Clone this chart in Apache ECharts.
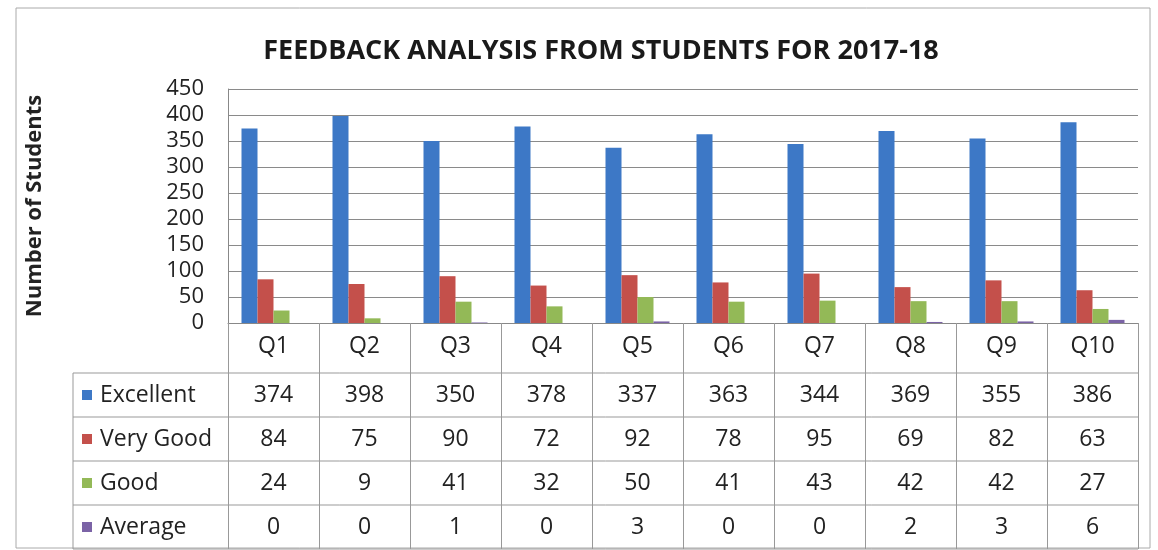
<!DOCTYPE html>
<html>
<head>
    <meta charset="utf-8">
    <title>Feedback Analysis</title>
    <script src="https://cdn.jsdelivr.net/npm/echarts@6/dist/echarts.min.js"></script>
    <style>
        html, body, #main {
            width: 100%;
            height: 100%;
            margin: 0;
            background: #fff;
        }
    </style>
</head>
<body>
    <div id="main"></div>
    <script type="text/javascript">
        // data
        var questions = ['Q1', 'Q2', 'Q3', 'Q4', 'Q5', 'Q6', 'Q7', 'Q8', 'Q9', 'Q10'];
        var excellent = [374, 398, 350, 378, 337, 363, 344, 369, 355, 386];
        var veryGood = [84, 75, 90, 72, 92, 78, 95, 69, 82, 63];
        var good = [24, 9, 41, 32, 50, 41, 43, 42, 42, 27];
        var average = [0, 0, 1, 0, 3, 0, 0, 2, 3, 6];
        var seriesNames = ['Excellent', 'Very Good', 'Good', 'Average'];
        var seriesData = [excellent, veryGood, good, average];
        var colors = ['#3d78c6', '#c4504b', '#93b957', '#7b63a6'];

        var font = 'Open Sans';
        var myChart = echarts.init(document.getElementById('main'));

        var series = seriesNames.map(function (name, k) {
            return {
                name: name,
                type: 'bar',
                data: seriesData[k],
                barWidth: 16,
                barGap: '0%',
                itemStyle: { color: colors[k] }
            };
        });

        var option = {
            animation: false,
            title: {
                text: 'FEEDBACK ANALYSIS FROM STUDENTS FOR 2017-18',
                left: 596,
                textAlign: 'center',
                top: 33,
                textStyle: { fontFamily: font, fontWeight: 'bold', fontSize: 27, color: '#1a1a1a' }
            },
            grid: { left: 228, right: 20, top: 89, bottom: 227 },
            xAxis: {
                type: 'category',
                data: questions,
                axisLine: { lineStyle: { color: '#888' } },
                axisTick: { show: true, length: 226, lineStyle: { color: '#999' } },
                axisLabel: { fontFamily: font, fontSize: 23, color: '#222', margin: 12 }
            },
            yAxis: {
                type: 'value',
                min: 0,
                max: 450,
                interval: 50,
                name: 'Number of Students',
                nameLocation: 'middle',
                nameRotate: 90,
                nameGap: 182,
                nameTextStyle: { fontFamily: font, fontWeight: 'bold', fontSize: 22, color: '#222' },
                axisLine: { show: true, lineStyle: { color: '#888' } },
                axisTick: { show: false },
                axisLabel: { fontFamily: font, fontSize: 22, color: '#222', margin: 24 },
                splitLine: { lineStyle: { color: '#8a8a8a' } }
            },
            series: series
        };
        myChart.setOption(option, true);

        // data table under the plot, placed from the axis scales
        var x0 = myChart.convertToPixel({ xAxisIndex: 0 }, questions[0]);
        var step = myChart.convertToPixel({ xAxisIndex: 0 }, questions[1]) - x0;
        var plotLeft = x0 - step / 2;
        var plotRight = plotLeft + step * questions.length;
        var y0 = myChart.convertToPixel({ yAxisIndex: 0 }, 0);
        var headerH = 50, rowH = 44, tableLeft = 73;
        var lineStyle = { stroke: '#999', lineWidth: 1 };

        var elements = [];
        elements.push({
            type: 'rect', silent: true, z: -1,
            shape: { x: 16, y: 8, width: 1134, height: 540 },
            style: { fill: null, stroke: '#aaa', lineWidth: 1 }
        });
        for (var r = 0; r <= seriesNames.length; r++) {
            var ly = y0 + headerH + r * rowH;
            elements.push({
                type: 'line', silent: true,
                shape: { x1: tableLeft, y1: ly, x2: plotRight, y2: ly },
                style: lineStyle
            });
        }
        elements.push({
            type: 'line', silent: true,
            shape: { x1: tableLeft, y1: y0 + headerH, x2: tableLeft, y2: y0 + headerH + rowH * seriesNames.length },
            style: lineStyle
        });
        seriesNames.forEach(function (name, k) {
            var cy = y0 + headerH + k * rowH + rowH / 2;
            elements.push({
                type: 'rect', silent: true,
                shape: { x: tableLeft + 9, y: cy - 5, width: 10, height: 10 },
                style: { fill: colors[k] }
            });
            elements.push({
                type: 'text', silent: true,
                x: tableLeft + 27, y: cy,
                style: {
                    text: name, fontFamily: font, fontSize: 23, fill: '#222',
                    textAlign: 'left', textVerticalAlign: 'middle'
                }
            });
            seriesData[k].forEach(function (v, i) {
                elements.push({
                    type: 'text', silent: true,
                    x: x0 + i * step, y: cy,
                    style: {
                        text: String(v), fontFamily: font, fontSize: 23, fill: '#222',
                        textAlign: 'center', textVerticalAlign: 'middle'
                    }
                });
            });
        });
        myChart.setOption({ graphic: elements });
    </script>
</body>
</html>
